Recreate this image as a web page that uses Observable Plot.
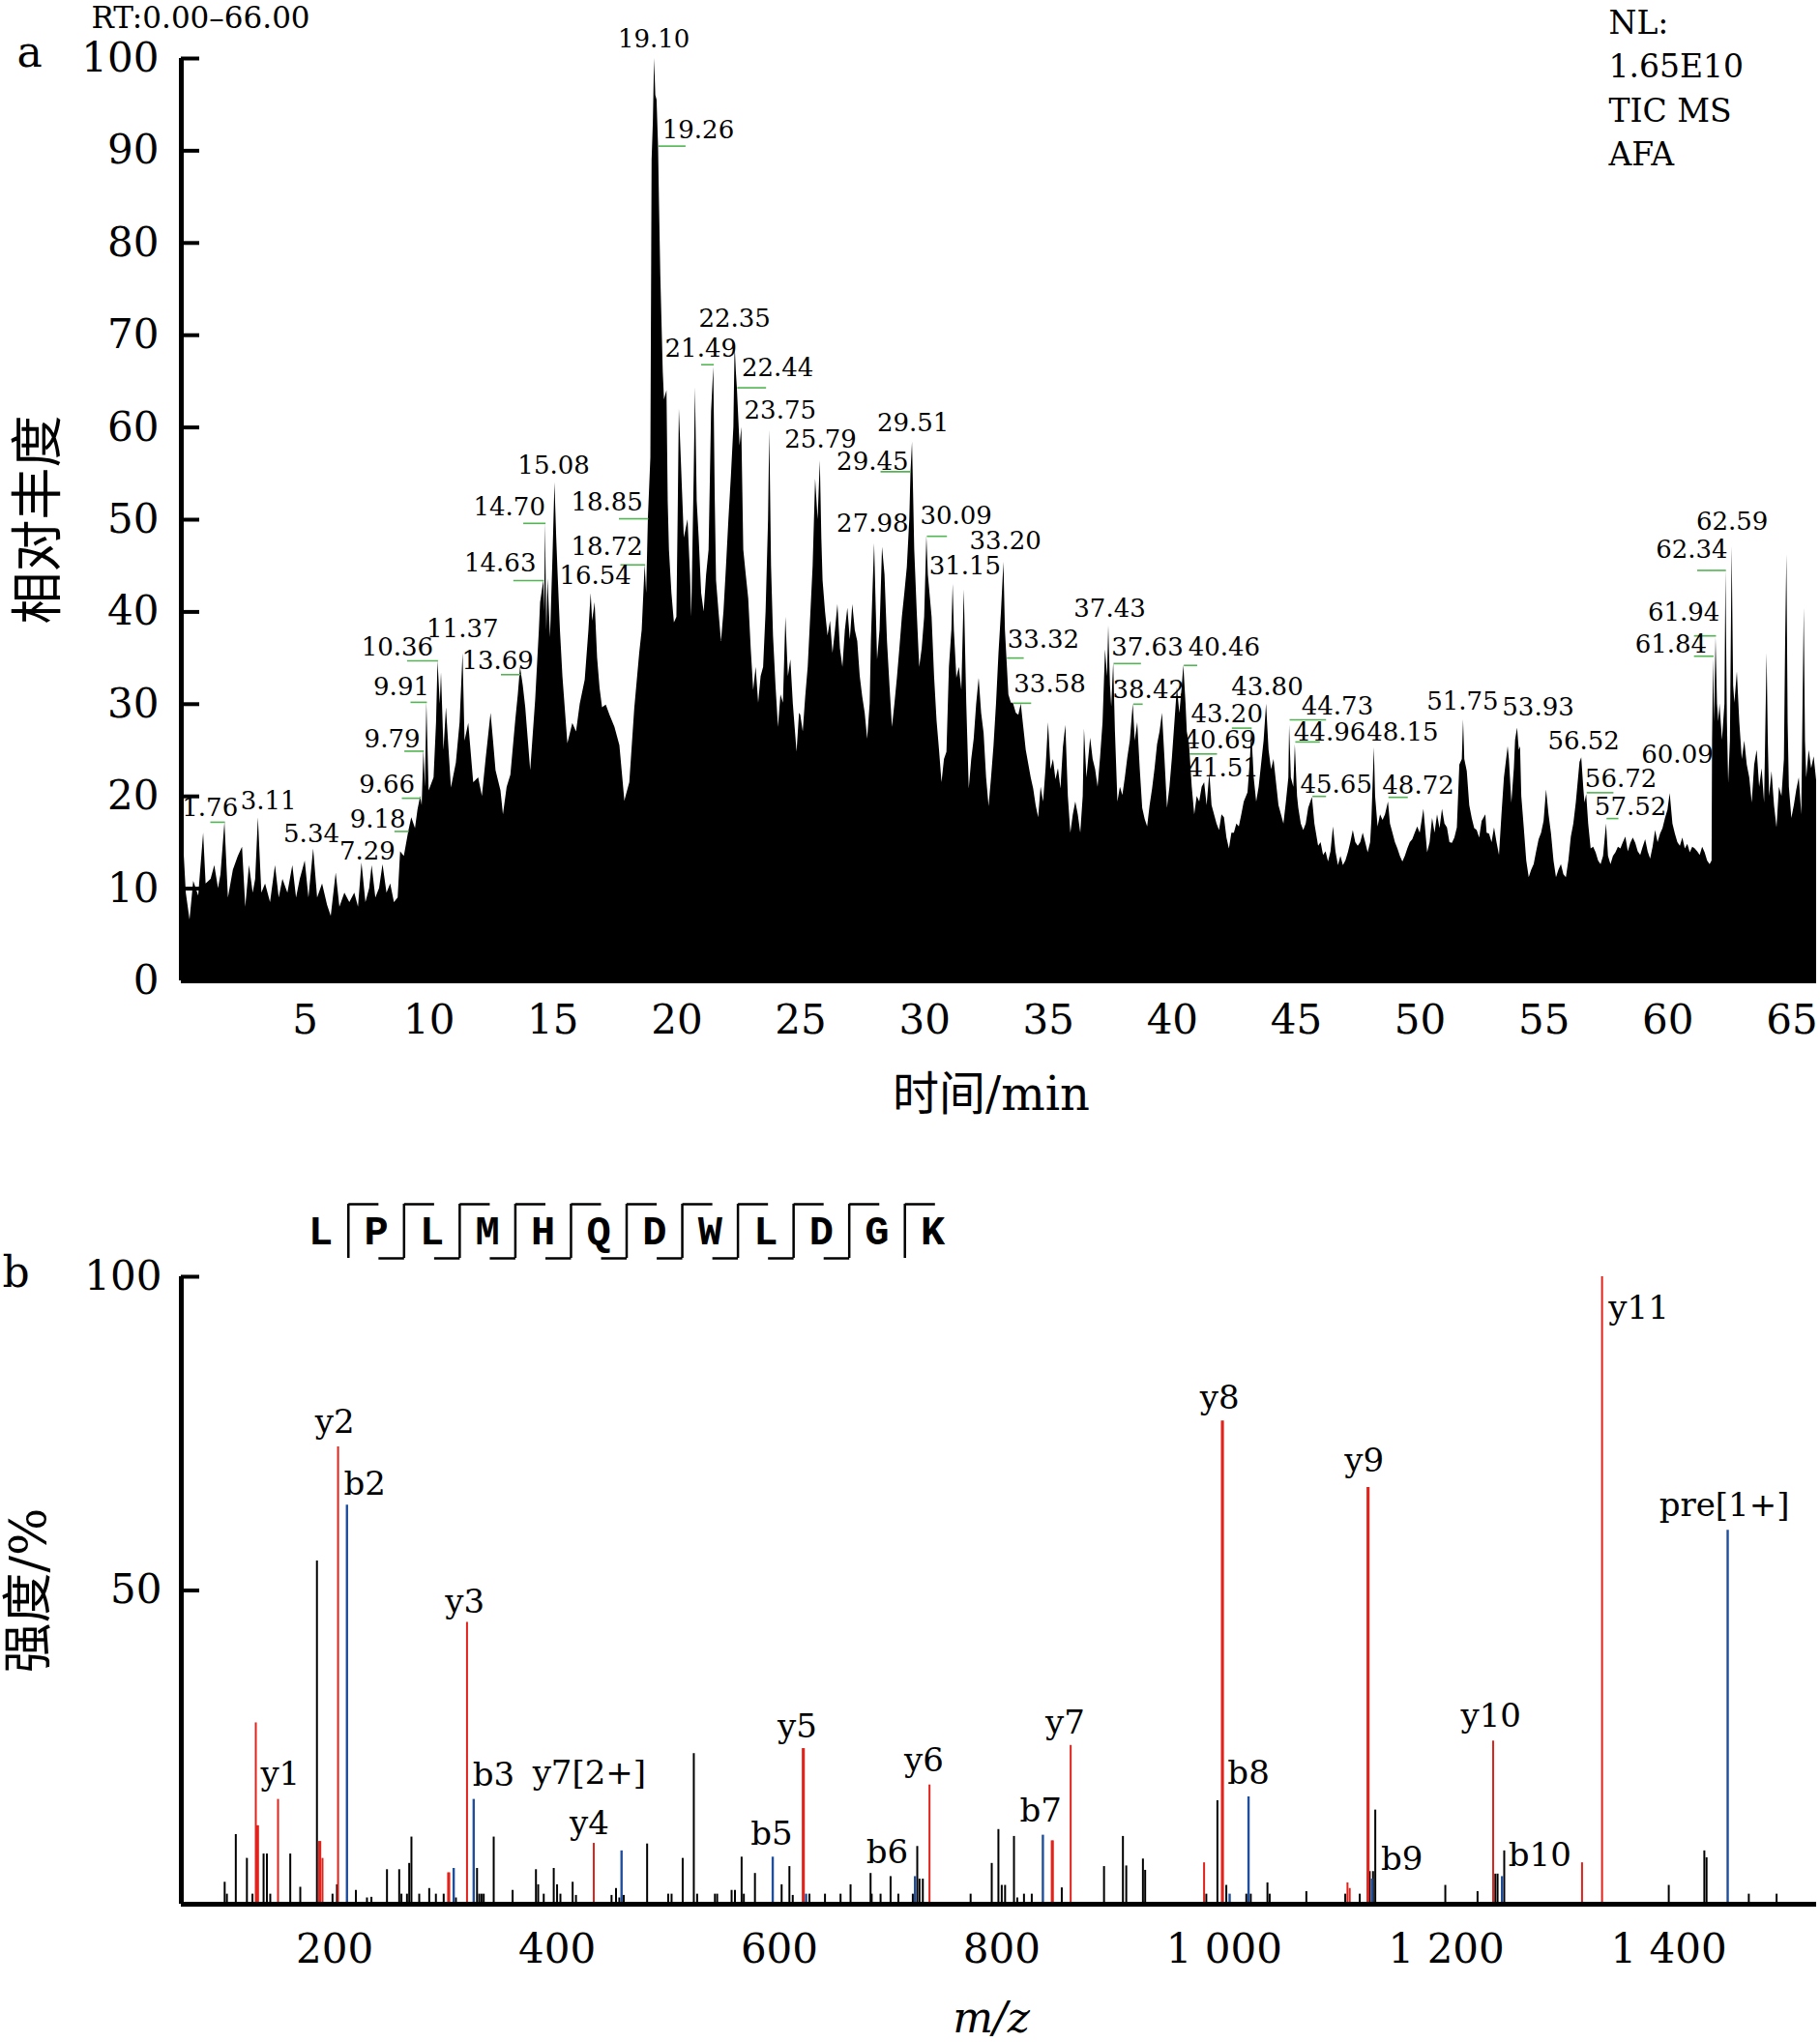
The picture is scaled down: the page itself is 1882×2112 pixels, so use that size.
<!DOCTYPE html>
<html>
<head>
<meta charset="utf-8">
<script src="https://cdn.jsdelivr.net/npm/d3@7"></script>
<script src="https://cdn.jsdelivr.net/npm/@observablehq/plot@0.6"></script>
<style>
html, body { margin: 0; padding: 0; background: #fff; }
#page { position: relative; width: 1882px; height: 2112px; overflow: hidden; background: #fff; }
#page svg { position: absolute; }
</style>
</head>
<body>
<div id="page"></div>
<script>
// ---------------- data: panel a (TIC chromatogram) ----------------
const rtTicks = [5, 10, 15, 20, 25, 30, 35, 40, 45, 50, 55, 60, 65];
const abundTicks = [0, 10, 20, 30, 40, 50, 60, 70, 80, 90, 100];
// [time (min), relative abundance]
const tic = [
[0,10.5],[0.1,14.5],[0.2,9.5],[0.35,6.6],[0.5,10.8],[0.7,9.2],[0.9,16],[1.0,10.5],[1.2,11],[1.35,12.5],[1.5,10],[1.6,11.5],[1.76,17.2],[1.9,9],[2.1,12],[2.3,13.5],[2.47,14.5],[2.6,8],[2.75,12.5],[2.9,9.5],[3.0,11],[3.11,17.7],[3.25,9.5],[3.4,10.5],[3.6,8.5],[3.8,12.5],[3.95,9],[4.1,11],[4.3,9.5],[4.5,12.5],[4.65,9],[4.8,11],[5.0,13],[5.15,9],[5.34,14.3],[5.5,9],[5.7,10.5],[5.9,8.2],[6.05,7],[6.25,11.7],[6.4,8],[6.6,9.5],[6.8,8.5],[7.0,9.5],[7.15,8],[7.29,12.8],[7.45,8.5],[7.6,10],[7.7,12.5],[7.85,9],[8.0,10],[8.14,12.6],[8.3,9.5],[8.45,10.5],[8.6,8.5],[8.75,9],[8.85,14],[9.0,13.5],[9.18,16.2],[9.3,17.7],[9.45,16.5],[9.55,18.5],[9.66,20],[9.72,19],[9.79,25],[9.85,21],[9.91,30.2],[10.0,20.6],[10.2,22],[10.3,28],[10.36,34.7],[10.45,30],[10.5,33.4],[10.6,25],[10.7,29.6],[10.9,20.9],[11.1,23.6],[11.25,28],[11.37,35.5],[11.45,26],[11.6,27.9],[11.8,21.5],[12.0,22],[12.15,20],[12.3,24],[12.5,29],[12.6,26],[12.7,22.8],[12.9,20.6],[13.0,18],[13.15,21],[13.3,22.3],[13.5,28.3],[13.6,31],[13.69,34],[13.8,32],[13.9,29.6],[14.1,22.8],[14.3,30.4],[14.45,38],[14.5,41],[14.63,43.4],[14.66,40],[14.70,49.6],[14.75,38],[14.8,43.6],[14.9,37.2],[15.0,46],[15.08,54],[15.15,48],[15.2,44.5],[15.3,38],[15.4,33],[15.6,25.7],[15.8,27.9],[15.95,27],[16.1,30],[16.3,32.6],[16.45,38],[16.54,42],[16.6,39],[16.7,41],[16.8,35],[16.9,31.7],[17.0,29.6],
[17.15,29.9],[17.3,28.8],[17.5,27.5],[17.7,25.5],[17.9,19.5],[18.1,21.5],[18.3,29.5],[18.5,35.5],[18.6,38],[18.72,45.1],[18.78,42],[18.85,50.1],[18.95,56.7],[19.0,89],[19.05,93],[19.10,100],[19.15,96],[19.2,95.5],[19.26,90.5],[19.3,84],[19.35,76.6],[19.45,66],[19.5,63],[19.6,64],[19.65,52],[19.7,46.7],[19.8,42],[19.9,38.8],[20.0,39.4],[20.05,50],[20.1,62],[20.2,55],[20.3,48],[20.45,50],[20.55,44],[20.6,39.4],[20.7,55],[20.75,64.3],[20.82,52],[20.9,48],[21.0,42],[21.1,40],[21.2,44],[21.3,46.7],[21.4,61.7],[21.49,66.5],[21.55,52],[21.6,43.4],[21.7,40],[21.8,36.8],[21.9,40],[22.0,44.8],[22.1,50],[22.2,54.7],[22.3,60],[22.35,69],[22.4,66],[22.44,64.3],[22.55,58],[22.62,60],[22.7,46.7],[22.8,44],[22.9,41.4],[23.0,36],[23.1,31.5],[23.2,34],[23.3,30.1],[23.4,33],[23.5,34],[23.6,40],[23.7,50],[23.75,59.7],[23.82,45],[23.9,37.4],[24.0,32],[24.1,27.5],[24.2,31],[24.3,30.1],[24.4,39.4],[24.5,33],[24.6,34.8],[24.7,30],[24.85,24.8],[24.95,29],[25.0,28.8],[25.1,27],[25.2,30.8],[25.3,34],[25.4,39.4],[25.5,45],[25.6,54.4],[25.7,50],[25.79,56.4],[25.85,48],[25.9,43.4],[26.0,40],[26.1,37.4],[26.2,39],[26.3,35.5],[26.4,38],[26.5,40.8],[26.6,36],[26.7,34],[26.8,38],[26.9,40.4],[27.0,37],[27.1,40.8],[27.2,38],[27.3,36.8],[27.4,33],[27.5,30.8],[27.6,29],[27.7,26.2],[27.8,30],[27.85,36.8],[27.9,41],[27.98,47.4],[28.05,40],[28.1,34.8],[28.2,38],[28.3,47],[28.4,44],[28.5,36.8],[28.6,32],[28.7,27.5],[28.8,30],[28.9,32.8],[29.0,36],[29.1,39.4],[29.2,42],[29.3,44.8],[29.4,50],[29.45,55.2],[29.51,58.4],[29.56,52],[29.6,46.7],[29.7,40],[29.8,34],[29.9,36],[30.0,39.4],[30.09,48.2],[30.15,44],[30.3,39.4],[30.4,33],[30.5,28.2],[30.6,25],[30.7,21.5],[30.8,24],[30.9,24.8],[31.0,34],[31.1,38],[31.15,43],[31.2,38],[31.3,32.8],[31.4,34],[31.5,31.5],[31.6,42.4],[31.7,30],[31.8,20.8],[31.9,24],[32.0,26.2],[32.1,30],[32.2,32.8],[32.3,29],[32.4,26.8],[32.5,22],[32.6,18.9],[32.7,22],[32.8,25.5],[32.9,30],[33.0,35.5],[33.1,40],[33.2,45.4],[33.26,38],[33.32,35],[33.4,31],[33.5,30.1],[33.58,30.1],[33.7,29],[33.8,28.8],[33.9,30],[34.0,27.5],[34.1,25],[34.2,23.5],
[34.3,22],[34.4,20.8],[34.5,19],[34.6,17.7],[34.7,21],[34.8,19.4],[34.9,23],[35.0,28],[35.1,22.9],[35.2,24],[35.3,21.8],[35.4,23],[35.5,20.8],[35.6,25.3],[35.7,27.7],[35.8,20],[35.9,16],[36.0,18],[36.1,19.4],[36.2,18],[36.3,16],[36.4,20],[36.45,27.3],[36.55,22],[36.7,26.3],[36.8,24],[36.9,22.9],[37.0,21],[37.1,24.2],[37.2,28],[37.3,35.9],[37.38,33],[37.43,38.5],[37.5,32],[37.55,29.7],[37.63,34.5],[37.7,27],[37.8,19.4],[37.9,21],[38.0,20.1],[38.1,22],[38.2,24.2],[38.3,26],[38.42,30],[38.5,26],[38.6,28],[38.7,23],[38.8,18.7],[38.9,17.5],[39.0,16.7],[39.1,19],[39.2,20.8],[39.3,23],[39.4,25.6],[39.5,27],[39.6,29],[39.7,24],[39.8,18.7],[39.9,21],[40.0,24.2],[40.1,28],[40.2,31.8],[40.3,29],[40.4,32],[40.46,34.2],[40.55,30],[40.6,27],[40.69,25.6],[40.8,21],[40.9,18],[41.0,20],[41.1,19.4],[41.2,21],[41.3,21.5],[41.4,19],[41.51,22.5],[41.6,19],[41.7,18],[41.8,17],[41.9,16.3],[42.0,18],[42.1,17.7],[42.2,15.5],[42.3,14.3],[42.4,16],[42.5,16],[42.6,17],[42.7,16.7],[42.8,18],[42.9,19.4],[43.05,20.4],[43.15,24],[43.2,27.3],[43.3,22],[43.4,19.4],[43.5,21],[43.6,23.5],[43.7,26],[43.8,30],[43.9,25],[44.0,22.9],[44.1,24],[44.2,21.5],[44.3,19],[44.4,18],[44.5,17],[44.6,19.4],[44.7,22],[44.73,27.7],[44.8,22],[44.9,21],[44.96,25.6],[45.05,20],[45.1,18.7],[45.2,17],[45.3,16.3],[45.4,17],[45.5,18.7],[45.65,19.9],[45.75,17],[45.9,14.6],[46.0,15],[46.1,13.6],[46.2,14],[46.3,12.9],[46.4,14],[46.5,16.7],[46.6,14],[46.7,12.5],[46.8,13.5],[46.9,12.5],[47.0,13],[47.1,13.9],[47.2,15],[47.3,16.3],[47.4,15],[47.5,14.6],[47.6,15],[47.7,16],[47.8,15],[47.9,13.9],[48.0,15],[48.05,17.4],[48.15,25.3],[48.2,20],[48.3,16.7],[48.4,18],[48.5,17.4],[48.6,18],[48.72,19.4],[48.8,17],[48.9,16],[49.0,15],[49.1,14.3],[49.2,13.5],[49.3,12.9],[49.4,13.5],[49.5,14.3],[49.6,15],[49.7,15.3],[49.8,16],[49.9,16.7],[50.0,16],
[50.15,18.6],[50.3,13.9],[50.4,15],[50.5,17.6],[50.6,16],[50.7,18],[50.8,16.5],[50.9,18.6],[51.0,17],[51.1,16.6],[51.2,15],[51.3,14.9],[51.4,15.5],[51.5,16.6],[51.6,23.4],[51.7,24],[51.75,28.3],[51.8,24],[51.9,22.7],[52.0,19],[52.1,17.6],[52.2,16.5],[52.3,16.3],[52.4,15.5],[52.5,17.3],[52.65,18],[52.7,16],[52.8,15.9],[52.9,15],[53.0,16.6],[53.1,15],[53.2,13.6],[53.3,18],[53.4,22],[53.55,25.4],[53.6,24],[53.7,19.3],[53.8,23],[53.85,26.1],[53.93,27.4],[54.0,25],[54.05,25.4],[54.1,20],[54.2,16.6],[54.3,13],[54.4,11.2],[54.5,12],[54.6,12.6],[54.7,14],[54.8,15.3],[54.9,16],[55.0,17.3],[55.1,20.7],[55.2,18],[55.3,15.9],[55.4,13],[55.5,11.2],[55.6,12],[55.7,12.6],[55.8,11.5],[55.9,11.2],[56.0,13],[56.1,15.6],[56.2,17],[56.3,19.3],[56.45,23.7],[56.52,24.2],[56.6,21],[56.65,19.3],[56.72,20.2],[56.8,17],[56.9,14.3],[57.0,14.5],[57.1,13.9],[57.2,13],[57.3,12.6],[57.4,13.5],[57.52,17],[57.6,13.5],[57.7,12.6],[57.8,13.5],[57.9,13.9],[58.0,14.5],[58.1,14.3],[58.2,15],[58.3,15.6],[58.4,14],[58.5,14.9],[58.6,15.5],[58.7,14.9],[58.8,14],[58.9,13.6],[59.0,14.5],[59.1,15.3],[59.2,14],[59.3,13.2],[59.4,14.5],[59.5,16.3],[59.6,15],[59.7,15.9],[59.8,16.5],[59.9,17.6],[60.0,18.5],[60.09,20.3],[60.2,17],[60.3,15.9],[60.4,15],[60.5,14.6],[60.6,15.5],[60.7,14.3],[60.8,14.8],[60.9,13.9],[61.0,14.5],[61.1,14.3],[61.2,14],[61.3,13.6],[61.4,14.5],[61.5,13.9],[61.6,13],[61.7,12.6],[61.78,13],[61.8,26.1],[61.84,34.9],[61.88,28],[61.94,37.2],[62.0,30],[62.05,28.1],[62.1,30],[62.2,26.1],[62.3,30],[62.34,44.5],[62.4,28],[62.45,21.4],[62.52,26],[62.59,47.1],[62.65,32],[62.7,30.1],[62.8,33.5],[62.9,28],[63.0,24],[63.1,26],[63.2,23.4],[63.3,22],[63.4,19.3],[63.5,23.4],[63.6,25],[63.7,21],[63.8,23],[63.9,19.3],[64.0,35.5],[64.05,26],[64.1,20],[64.2,22.7],[64.3,19],[64.4,16.6],[64.5,21],[64.6,20],[64.7,24],[64.75,36.9],[64.8,46.2],[64.85,28],[64.9,21],[65.0,17.6],[65.1,19],[65.2,20.7],[65.3,22],[65.4,18],[65.5,40.4],[65.55,26],[65.6,22],[65.7,25],[65.8,23],[65.9,24.3],[66.0,21.7]
];
// [label, peak time, peak height, label centre time, label centre height, leader-line end time]
const peakLabels = [
["1.76",1.76,17.2,1.16,18.7,1.17],["3.11",3.11,17.7,3.52,19.5,null],["5.34",5.34,14.3,5.25,15.9,null],["7.29",7.29,12.8,7.51,14.0,null],
["9.18",9.18,16.2,7.93,17.5,8.6],["9.66",9.66,19.8,8.30,21.3,8.9],["9.79",9.79,24.9,8.51,26.2,9.0],["9.91",9.91,30.2,8.88,31.9,9.25],
["10.36",10.36,34.7,8.72,36.1,9.11],["11.37",11.37,35.5,11.35,38.1,null],["13.69",13.69,33.2,12.77,34.7,12.9],["14.63",14.63,43.4,12.87,45.3,13.4],
["14.70",14.70,49.6,13.24,51.3,13.8],["15.08",15.08,54,15.03,55.9,null],["16.54",16.54,42,16.71,43.9,null],["18.72",18.72,45.1,17.18,47.0,17.72],
["18.85",18.85,50.1,17.18,51.9,17.66],["19.10",19.10,100,19.07,102.1,null],["19.26",19.26,90.5,20.86,92.2,20.35],["21.49",21.49,66.8,20.97,68.5,20.98],
["22.35",22.35,69,22.33,71.8,null],["22.44",22.44,64.3,24.07,66.4,23.6],["23.75",23.75,59.7,24.17,61.8,null],["25.79",25.79,56.4,25.80,58.7,null],
["27.98",27.98,47.4,27.90,49.6,null],["29.45",29.45,55.2,27.90,56.3,28.22],["29.51",29.51,58.4,29.53,60.5,null],["30.09",30.09,48.2,31.27,50.4,30.9],
["31.15",31.15,43,31.63,45.0,null],["33.20",33.20,45.4,33.26,47.7,null],["33.32",33.32,35,34.79,37.0,34.0],["33.58",33.58,30.1,35.05,32.2,34.3],
["37.43",37.43,38.5,37.47,40.3,null],["37.63",37.63,34.4,38.99,36.1,38.73],["38.42",38.42,30,39.04,31.5,38.8],["40.46",40.46,34.2,42.09,36.1,41.0],
["43.20",43.20,27.4,42.20,28.9,42.4],["40.69",40.69,24.6,41.93,26.1,41.8],["41.51",41.51,22.3,42.04,23.0,null],["43.80",43.80,30,43.83,31.9,null],
["44.73",44.73,28.3,46.66,29.8,46.2],["44.96",44.96,25.9,46.35,26.9,45.95],["48.15",48.15,25.3,49.29,26.9,null],["45.65",45.65,20,46.61,21.3,46.2],
["48.72",48.72,19.9,49.92,21.2,49.5],["51.75",51.75,28.3,51.71,30.3,null],["53.93",53.93,27.4,54.76,29.6,null],["56.52",56.52,24.2,56.6,26.0,null],
["56.72",56.72,20.4,58.1,21.9,57.8],["57.52",57.52,17.6,58.49,18.9,58.0],["60.09",60.09,20.3,60.38,24.5,null],["61.84",61.84,35.2,60.12,36.5,61.05],
["61.94",61.94,37.4,60.64,39.9,61.05],["62.34",62.34,44.5,60.96,46.7,61.18],["62.59",62.59,47.1,62.59,49.8,null]
];
const nlText = "NL:\n1.65E10\nTIC MS\nAFA";
const rtText = "RT:0.00\u201366.00";

// ---------------- data: panel b (MS/MS spectrum) ----------------
const mzTicks = [200, 400, 600, 800, 1000, 1200, 1400];
const mzTickLabels = ["200", "400", "600", "800", "1 000", "1 200", "1 400"];
const intensityTicks = [50, 100];
// [m/z, intensity %]
const otherPeaks = [
[101,3.5],[103,1.6],[111,11.1],[121,7.3],[126,1.6],[136,8],[139,8],[142,1.6],[160,8],[169,2.7],[184,54.7],[198,1.6],[202,3.1],[219,2.2],[229,1],[233,1.1],[247,5.5],[258,5.5],[260,1.6],[265,1.6],[267,6.5],[269,10.7],[276,1.6],[285,2.5],[291,1.6],[298,1.6],[309,1],[328,5.7],[330,1.6],[332,1.6],[334,1.6],[343,10.7],[360,2.2],[381,5.5],[383,3.1],[388,1.6],[397,5.7],[400,3.1],[403,1.6],[414,3.5],[417,1.4],[449,1.4],[453,2.5],[456,1],[460,1.4],[481,9.6],[500,1.6],[503,1.6],[513,7.3],[523,24],[526,1.6],[542,1.6],[544,1.6],[557,2.2],[560,2.2],[566,7.5],[568,1.6],[578,4.9],[602,3.1],[609,6],[612,1.4],[627,1.6],[641,1.6],[655,1.6],[664,3.1],[682,4.9],[683,1.6],[691,1.6],[700,4.4],[707,1.6],[720,1.6],[724,9.2],[726,4],[729,4],[772,1.6],[791,6.5],[797,11.9],[800,3],[803,3],[811,10.8],[814,1],[820,1.6],[827,1.6],[854,2.6],[892,6],[909,10.8],[912,6.1],[927,7.2],[929,5.4],[984,1.6],[994,16.5],[1002,3],[1020,1.6],[1024,1.6],[1039,3.4],[1041,1.6],[1074,2],[1109,1.6],[1122,1.6],[1131,5.2],[1134,5.2],[1136,15],[1199,3],[1228,2],[1244,4.8],[1246,4.8],[1252,8.5],[1400,3],[1432,8.5],[1434,7.4],[1472,1.6],[1497,1.6]
];
const yIonPeaks = [
[129,28.9],[130,12.5],[131,12.5],[149,16.7],[186,10],[187,10],[189,7.3],[203,72.9],[302,5],[303,5],[319,44.9],[433,9.7],[621,24.8],[622,24.8],[735,19],[845,10.1],[846,10.1],[862,25.3],[982,6.6],[998,77],[999,77],[1111,3.4],[1113,2.5],[1129,66.4],[1130,66.4],[1242,26],[1322,6.6],[1340,100]
];
const bIonPeaks = [
[211,63.6],[307,5.7],[325,16.7],[458,8.5],[594,7.5],[624,1.6],[722,4.4],[837,11],[1005,1.6],[1022,17.1],[1133,4],[1250,4.4],[1453,59.6]
];
// [label, label centre m/z, label centre intensity]
const ionLabels = [
["y1",151,20.7],["y2",200,76.8],["b2",227,66.9],["y3",317,48.2],["b3",343,20.5],["y7[2+]",429,20.9],["y4",429,12.8],
["b5",593,11.2],["y5",616,28.2],["b6",697,8.3],["y6",730,22.8],["b7",835,14.9],["y7",857,28.8],["y8",996,80.7],
["b8",1022,20.9],["y9",1126,70.6],["b9",1160,7.2],["y10",1240,30],["b10",1284,7.7],["y11",1373,95],["pre[1+]",1450,63.6]
];
const residues = ["L","P","L","M","H","Q","D","W","L","D","G","K"];
const yIonBreaks = [1,2,3,4,5,6,7,8,9,10,11];   // cleavage after residue k gives y(12-k)
const bIonBreaks = [2,3,4,5,6,7,8,9,10];        // cleavage after residue k gives b(k)

// ---------------- drawing ----------------
const SERIF = "'DejaVu Serif', 'Noto Sans CJK SC', serif";
const MONO = "'Liberation Mono', 'DejaVu Sans Mono', monospace";
const W = 1882;
const RED = "#e2231c", BLUE = "#1f4e9c", GREEN = "#52b452";
const page = document.getElementById("page");

function place(svg, left, top) {
  svg.style.left = left + "px";
  svg.style.top = top + "px";
  svg.style.maxWidth = "none";
  page.appendChild(svg);
}
const C = {textAnchor: "middle", lineAnchor: "middle", fill: "#000"};

// Panel a
const aMargins = {left: 187, right: 4, top: 60, bottom: 156};
const aPlotW = W - aMargins.left - aMargins.right;
const panelA = Plot.plot({
  width: W, height: 1170,
  marginLeft: aMargins.left, marginRight: aMargins.right, marginTop: aMargins.top, marginBottom: aMargins.bottom,
  x: {domain: [0, 66], axis: null},
  y: {domain: [0, 100], axis: null},
  style: {fontFamily: SERIF, background: "transparent", overflow: "visible", color: "#000"},
  marks: [
    Plot.areaY(tic, {x: d => d[0], y: d => d[1], fill: "#000", curve: "linear"}),
    Plot.link(peakLabels.filter(d => d[5] != null), {x1: d => d[1], y1: d => d[2], x2: d => d[5], y2: d => d[2], stroke: GREEN, strokeWidth: 1.6}),
    Plot.text(peakLabels, {x: d => d[3], y: d => d[4], text: d => d[0], fontSize: 26, ...C}),
    Plot.ruleX([0], {stroke: "#000", strokeWidth: 5}),
    Plot.ruleY([0], {stroke: "#000", strokeWidth: 5}),
    Plot.tickY(abundTicks, {y: d => d, insetRight: aPlotW - 19, stroke: "#000", strokeWidth: 4}),
    Plot.text(abundTicks, {y: d => d, frameAnchor: "left", dx: -23, ...C, textAnchor: "end", text: d => String(d), fontSize: 42}),
    Plot.text(rtTicks, {x: d => d, frameAnchor: "bottom", dy: 41, ...C, text: d => String(d), fontSize: 42}),
    Plot.text(["时间/min"], {frameAnchor: "bottom", dx: -8, dy: 118, ...C, text: d => d, fontSize: 48}),
    Plot.text(["相对丰度"], {frameAnchor: "left", dx: -147, rotate: -90, ...C, text: d => d, fontSize: 54}),
    Plot.text(["a"], {frameAnchor: "top-left", dx: -157, dy: -6, ...C, text: d => d, fontSize: 44}),
    Plot.text([rtText], {frameAnchor: "top-left", dx: -93, dy: -41, ...C, textAnchor: "start", text: d => d, fontSize: 31}),
    Plot.text([nlText], {frameAnchor: "top-right", dx: -215, dy: -58, textAnchor: "start", lineAnchor: "top", lineHeight: 1.38, fill: "#000", text: d => d, fontSize: 33})
  ]
});
place(panelA, 0, 0);

// Panel b
const bTop = 1180;
const bMargins = {left: 187, right: 4, top: 140, bottom: 143};
const bPlotW = W - bMargins.left - bMargins.right;
const panelB = Plot.plot({
  width: W, height: 2112 - bTop,
  marginLeft: bMargins.left, marginRight: bMargins.right, marginTop: bMargins.top, marginBottom: bMargins.bottom,
  x: {domain: [62, 1533], axis: null},
  y: {domain: [0, 100], axis: null},
  style: {fontFamily: SERIF, background: "transparent", overflow: "visible", color: "#000"},
  marks: [
    Plot.ruleX(otherPeaks, {x: d => d[0], y1: 0, y2: d => d[1], stroke: "#000", strokeWidth: 2}),
    Plot.ruleX(yIonPeaks, {x: d => d[0], y1: 0, y2: d => d[1], stroke: RED, strokeWidth: 2}),
    Plot.ruleX(bIonPeaks, {x: d => d[0], y1: 0, y2: d => d[1], stroke: BLUE, strokeWidth: 2.4}),
    Plot.text(ionLabels, {x: d => d[1], y: d => d[2], text: d => d[0], fontSize: 34, ...C}),
    Plot.ruleX([62], {stroke: "#000", strokeWidth: 5}),
    Plot.ruleY([0], {stroke: "#000", strokeWidth: 5}),
    Plot.tickY(intensityTicks, {y: d => d, insetRight: bPlotW - 19, stroke: "#000", strokeWidth: 4}),
    Plot.text(intensityTicks, {y: d => d, frameAnchor: "left", dx: -20, ...C, textAnchor: "end", text: d => String(d), fontSize: 42}),
    Plot.text(mzTicks, {x: d => d, frameAnchor: "bottom", dy: 47, ...C, text: (d, i) => mzTickLabels[i], fontSize: 42}),
    Plot.text(["m/z"], {frameAnchor: "bottom", dx: -8, dy: 118, ...C, text: d => d, fontSize: 44, fontStyle: "italic"}),
    Plot.text(["强度/%"], {frameAnchor: "left", dx: -157, rotate: -90, ...C, text: d => d, fontSize: 52}),
    Plot.text(["b"], {frameAnchor: "top-left", dx: -171, dy: -4, ...C, text: d => d, fontSize: 44})
  ]
});
place(panelB, 0, bTop);

// Peptide sequence with fragment markers
const seq = Plot.plot({
  width: 700, height: 80,
  marginLeft: 31, marginRight: 36, marginTop: 10, marginBottom: 14,
  x: {domain: [0, residues.length - 1], axis: null},
  y: {domain: [0, 1], axis: null},
  style: {background: "transparent", overflow: "visible"},
  marks: [
    Plot.text(residues, {x: (d, i) => i, y: 0.5, text: d => d, fontSize: 42, fontWeight: "bold", fontFamily: MONO, fill: "#000"}),
    Plot.ruleX(yIonBreaks, {x: k => k - 0.5, y1: 0, y2: 1, stroke: "#000", strokeWidth: 2.5}),
    Plot.link(yIonBreaks, {x1: k => k - 0.5, x2: k => k + 0.04, y1: 1, y2: 1, stroke: "#000", strokeWidth: 2.5}),
    Plot.link(bIonBreaks, {x1: k => k - 0.96, x2: k => k - 0.5, y1: 0, y2: 0, stroke: "#000", strokeWidth: 2.5})
  ]
});
place(seq, 300, 1235);
</script>
</body>
</html>
